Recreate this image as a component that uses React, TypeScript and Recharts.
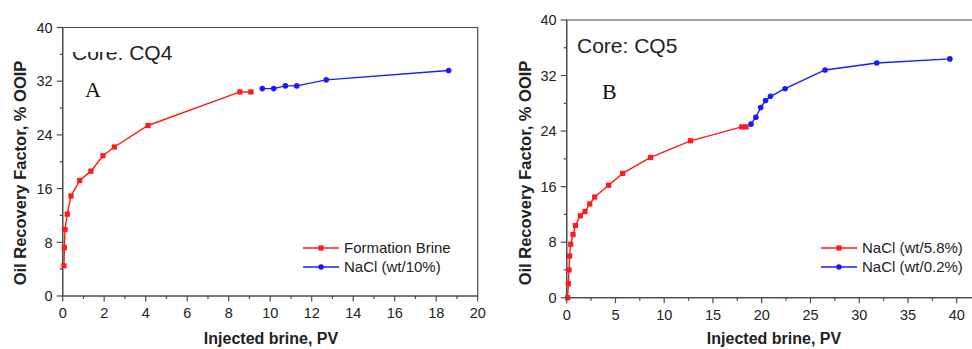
import React from 'react';
import { LineChart, Line, XAxis, YAxis, ReferenceArea } from 'recharts';

// Core CQ4 (panel A)
const formationPV = [0.06, 0.08, 0.11, 0.22, 0.4, 0.82, 1.36, 1.94, 2.49, 4.11, 8.54, 9.07];
const formationRF = [4.5, 7.2, 9.9, 12.2, 14.9, 17.2, 18.6, 20.9, 22.2, 25.4, 30.4, 30.4];
const nacl10PV = [9.62, 10.17, 10.73, 11.28, 12.7, 18.6];
const nacl10RF = [30.9, 30.9, 31.3, 31.3, 32.2, 33.6];

// Core CQ5 (panel B)
const nacl58PV = [0.1, 0.17, 0.24, 0.3, 0.41, 0.65, 0.89, 1.4, 1.88, 2.36, 2.87, 4.3, 5.74, 8.6, 12.7, 17.95, 18.4];
const nacl58RF = [0, 2.0, 4.0, 6.0, 7.7, 9.1, 10.4, 11.8, 12.4, 13.5, 14.5, 16.2, 17.9, 20.2, 22.6, 24.6, 24.6];
const nacl02PV = [18.9, 19.4, 19.9, 20.4, 20.9, 22.4, 26.5, 31.8, 39.3];
const nacl02RF = [25.0, 26.0, 27.4, 28.4, 29.0, 30.1, 32.8, 33.8, 34.4];

const xTicksA = [0, 1, 2, 3, 4, 5, 6, 7, 8, 9, 10, 11, 12, 13, 14, 15, 16, 17, 18, 19, 20];
const xTicksB = [0, 2.5, 5, 7.5, 10, 12.5, 15, 17.5, 20, 22.5, 25, 27.5, 30, 32.5, 35, 37.5, 40];
const yTicks = [0, 4, 8, 12, 16, 20, 24, 28, 32, 36, 40];

const zip = (xs: number[], ys: number[]) => xs.map((x, i) => ({ x, y: ys[i] }));

const RED = '#ff1a1a';
const BLUE = '#1a1aff';
const AXIS = '#4a4a4a';
const TEXT = '#222';
const SANS = '"Liberation Sans", Arial, sans-serif';
const SERIF = '"Liberation Serif", "Times New Roman", serif';

const xTick = (step: number) => (p: any) => {
  const v = p.payload.value;
  const major = Math.abs(v / step - Math.round(v / step)) < 1e-6;
  return (
    <g key={`xt-${v}`}>
      <line x1={p.x} x2={p.x} y1={p.y} y2={p.y + (major ? 5.5 : 3)} stroke={AXIS} strokeWidth={1.2} />
      {major && (
        <text x={p.x} y={p.y + 22} textAnchor="middle" fontSize={14.5} fontFamily={SANS} fill={TEXT}>
          {v}
        </text>
      )}
    </g>
  );
};

const yTick = (p: any) => {
  const v = p.payload.value;
  const major = v % 8 === 0;
  return (
    <g key={`yt-${v}`}>
      <line x1={p.x - (major ? 6 : 3)} x2={p.x} y1={p.y} y2={p.y} stroke={AXIS} strokeWidth={1.2} />
      {major && (
        <text x={p.x - 10} y={p.y} dy="0.36em" textAnchor="end" fontSize={14.5} fontFamily={SANS} fill={TEXT}>
          {v}
        </text>
      )}
    </g>
  );
};

const squareDot = (color: string) => (p: any) => (
  <rect key={`sq-${p.index}`} x={p.cx - 2.6} y={p.cy - 2.6} width={5.2} height={5.2} fill={color} />
);

function LegendBox({ left, items }: { left: number; items: { label: string; color: string; square: boolean }[] }) {
  return (
    <div style={{ position: 'absolute', left, top: 238, fontFamily: SANS, fontSize: 15, color: TEXT }}>
      {items.map((it) => (
        <div key={it.label} style={{ display: 'flex', alignItems: 'center', height: 19 }}>
          <svg width={36} height={10} style={{ marginRight: 5 }}>
            <line x1={0} x2={36} y1={5} y2={5} stroke={it.color} strokeWidth={1.5} />
            {it.square ? (
              <rect x={15.4} y={2.4} width={5.2} height={5.2} fill={it.color} />
            ) : (
              <circle cx={18} cy={5} r={2.8} fill={it.color} />
            )}
          </svg>
          <span>{it.label}</span>
        </div>
      ))}
    </div>
  );
}

const yTitle: React.CSSProperties = {
  position: 'absolute',
  top: 173,
  transform: 'translate(-50%, -50%) rotate(-90deg)',
  whiteSpace: 'nowrap',
  fontFamily: SANS,
  fontWeight: 'bold',
  fontSize: 16.5,
  color: TEXT,
};

const xTitle: React.CSSProperties = {
  position: 'absolute',
  top: 330,
  transform: 'translateX(-50%)',
  whiteSpace: 'nowrap',
  fontFamily: SANS,
  fontWeight: 'bold',
  fontSize: 16,
  color: TEXT,
};

export default function App() {
  return (
    <div style={{ position: 'absolute', left: 0, top: 0, width: 972, height: 349, overflow: 'hidden', background: '#fff' }}>
      {/* Panel A */}
      <div style={{ position: 'absolute', left: 0, top: 0 }}>
        <LineChart width={490} height={349} margin={{ top: 27.5, right: 12.3, bottom: 23, left: 0 }}>
          <XAxis
            type="number"
            dataKey="x"
            domain={[0, 20]}
            ticks={xTicksA}
            interval={0}
            tickSize={0}
            tickMargin={0}
            tickLine={false}
            tick={xTick(2)}
            axisLine={{ stroke: AXIS, strokeWidth: 1.2 }}
            height={30}
          />
          <YAxis
            type="number"
            domain={[0, 40]}
            ticks={yTicks}
            interval={0}
            tickSize={0}
            tickMargin={0}
            tickLine={false}
            tick={yTick}
            axisLine={{ stroke: AXIS, strokeWidth: 1.2 }}
            width={62.7}
          />
          <ReferenceArea x1={0} x2={20} y1={0} y2={40} fill="none" stroke={AXIS} strokeWidth={1.2} />
          <Line data={zip(formationPV, formationRF)} dataKey="y" stroke={RED} strokeWidth={1.4} dot={squareDot(RED)} isAnimationActive={false} />
          <Line data={zip(nacl10PV, nacl10RF)} dataKey="y" stroke={BLUE} strokeWidth={1.4} dot={{ r: 2.8, fill: BLUE, stroke: BLUE, strokeWidth: 0 }} isAnimationActive={false} />
        </LineChart>
      </div>
      <div style={{ position: 'absolute', left: 72, top: 41, fontFamily: SANS, fontSize: 21, color: TEXT, lineHeight: '24px' }}>Core: CQ4</div>
      {/* the source figure has the top of "Core:" cut off */}
      <div style={{ position: 'absolute', left: 68, top: 40, width: 58, height: 12, background: '#fff' }} />
      <div style={{ position: 'absolute', left: 85, top: 77, fontFamily: SERIF, fontSize: 22, color: '#111', lineHeight: '26px' }}>A</div>
      <LegendBox
        left={303}
        items={[
          { label: 'Formation Brine', color: RED, square: true },
          { label: 'NaCl (wt/10%)', color: BLUE, square: false },
        ]}
      />
      <div style={{ ...yTitle, left: 20 }}>Oil Recovery Factor, % OOIP</div>
      <div style={{ ...xTitle, left: 271 }}>Injected brine, PV</div>

      {/* Panel B */}
      <div style={{ position: 'absolute', left: 490, top: 0 }}>
        <LineChart width={490} height={349} margin={{ top: 20, right: 3.8, bottom: 21.3, left: 0 }}>
          <XAxis
            type="number"
            dataKey="x"
            domain={[0, 42]}
            ticks={xTicksB}
            interval={0}
            tickSize={0}
            tickMargin={0}
            tickLine={false}
            tick={xTick(5)}
            axisLine={{ stroke: AXIS, strokeWidth: 1.2 }}
            height={30}
          />
          <YAxis
            type="number"
            domain={[0, 40]}
            ticks={yTicks}
            interval={0}
            tickSize={0}
            tickMargin={0}
            tickLine={false}
            tick={yTick}
            axisLine={{ stroke: AXIS, strokeWidth: 1.2 }}
            width={76.7}
          />
          <ReferenceArea x1={0} x2={42} y1={0} y2={40} fill="none" stroke={AXIS} strokeWidth={1.2} />
          <Line data={zip(nacl58PV, nacl58RF)} dataKey="y" stroke={RED} strokeWidth={1.4} dot={squareDot(RED)} isAnimationActive={false} />
          <Line data={zip(nacl02PV, nacl02RF)} dataKey="y" stroke={BLUE} strokeWidth={1.4} dot={{ r: 2.8, fill: BLUE, stroke: BLUE, strokeWidth: 0 }} isAnimationActive={false} />
        </LineChart>
      </div>
      <div style={{ position: 'absolute', left: 577, top: 34, fontFamily: SANS, fontSize: 21, color: TEXT, lineHeight: '24px' }}>Core: CQ5</div>
      <div style={{ position: 'absolute', left: 602, top: 79, fontFamily: SERIF, fontSize: 22, color: '#111', lineHeight: '26px' }}>B</div>
      <LegendBox
        left={821}
        items={[
          { label: 'NaCl (wt/5.8%)', color: RED, square: true },
          { label: 'NaCl (wt/0.2%)', color: BLUE, square: false },
        ]}
      />
      <div style={{ ...yTitle, left: 524.5 }}>Oil Recovery Factor, % OOIP</div>
      <div style={{ ...xTitle, left: 774 }}>Injected brine, PV</div>
    </div>
  );
}
